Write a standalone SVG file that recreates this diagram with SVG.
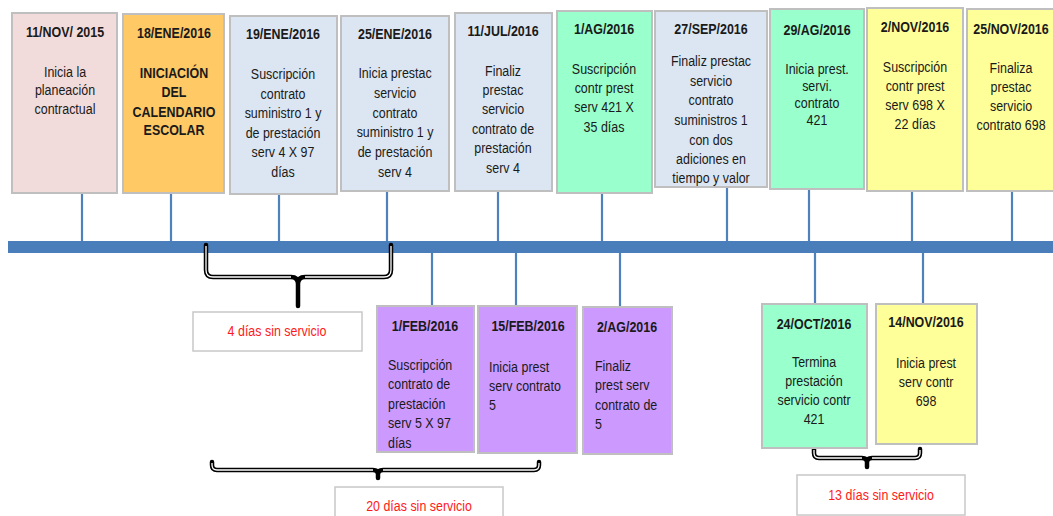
<svg xmlns="http://www.w3.org/2000/svg" width="1053" height="516" viewBox="0 0 1053 516">
  <style>
    .box { stroke: #BFBFBF; stroke-width: 2; }
    .pink { fill: #F2DCDB; }
    .orange { fill: #FFC966; }
    .blue { fill: #DCE6F2; }
    .green { fill: #99FFCC; }
    .yellow { fill: #FFFF99; }
    .purple { fill: #CC99FF; }
    .note { fill: #FFFFFF; stroke: #C8C8C8; stroke-width: 1.5; }
    text { font-family: "Liberation Sans Narrow", "Arial Narrow", "Liberation Sans", Arial, sans-serif; font-size: 15px; fill: #1A1A1A;
           transform-box: fill-box; transform-origin: 50% 50%; transform: scaleX(0.83); }
    text.l { transform-origin: 0 50%; }
    .t { font-weight: bold; text-anchor: middle; }
    .c { text-anchor: middle; }
    .b { font-weight: bold; text-anchor: middle; }
    .red { fill: #FF1A1A; text-anchor: middle; }
    .tick { stroke: #4F81BD; stroke-width: 2.2; fill: none; }
    .brace { fill: none; stroke: #000000; stroke-width: 4.5; stroke-linejoin: round; stroke-linecap: round; }
    .braceIn { fill: none; stroke: #FFFFFF; stroke-width: 1.3; stroke-linejoin: round; }
  </style>

  <!-- timeline bar -->
  <rect x="8" y="241" width="1045" height="12" fill="#4A7EBB"/>

  <!-- connectors: ticks, braces -->
  <g id="connectors">
    <line class="tick" x1="82" y1="193" x2="82" y2="241"/>
    <line class="tick" x1="171" y1="193" x2="171" y2="241"/>
    <line class="tick" x1="279" y1="194" x2="279" y2="241"/>
    <line class="tick" x1="387" y1="191" x2="387" y2="241"/>
    <line class="tick" x1="498" y1="191" x2="498" y2="241"/>
    <line class="tick" x1="602" y1="193" x2="602" y2="241"/>
    <line class="tick" x1="727" y1="187" x2="727" y2="241"/>
    <line class="tick" x1="809" y1="189" x2="809" y2="241"/>
    <line class="tick" x1="912" y1="191" x2="912" y2="241"/>
    <line class="tick" x1="1012" y1="191" x2="1012" y2="241"/>

    <line class="tick" x1="432" y1="253" x2="432" y2="306"/>
    <line class="tick" x1="516" y1="253" x2="516" y2="306"/>
    <line class="tick" x1="620" y1="253" x2="620" y2="307"/>
    <line class="tick" x1="815" y1="253" x2="815" y2="304"/>
    <line class="tick" x1="923" y1="253" x2="923" y2="304"/>

    <!-- brace: 4 días -->
    <path class="brace" d="M206,245 V270 Q206,277 213,277 H291 Q298,277 298,284 Q298,277 305,277 H384 Q391,277 391,270 V245 M298,282 V306"/>
    <path class="braceIn" d="M206,246 V270 Q206,277 213,277 H291 M305,277 H384 Q391,277 391,270 V246"/>

    <!-- brace: 20 días -->
    <path class="brace" d="M212,462 V465 Q212,470 217,470 H373 Q378,470 378,474 Q378,470 383,470 H534 Q539,470 539,465 V462 M378,472 V478"/>
    <path class="braceIn" d="M212,463 V465 Q212,470 217,470 H373 M383,470 H534 Q539,470 539,465 V463"/>

    <!-- brace: 13 días -->
    <path class="brace" d="M814,449 V453 Q814,458 819,458 H862 Q867,458 867,462 Q867,458 872,458 H915 Q920,458 920,453 V449 M867,460 V467"/>
    <path class="braceIn" d="M814,450 V453 Q814,458 819,458 H862 M872,458 H915 Q920,458 920,453 V450"/>
  </g>

  <!-- upper events -->
  <g id="n-11nov2015">
    <rect class="box pink" x="12" y="13" width="105" height="180"/>
    <text class="t" x="65" y="37">11/NOV/ 2015</text>
    <text class="c" x="65" y="77">Inicia  la</text>
    <text class="c" x="65" y="95">planeación</text>
    <text class="c" x="65" y="114">contractual</text>
  </g>
  <g id="n-18ene2016">
    <rect class="box orange" x="123" y="14" width="101" height="179"/>
    <text class="t" x="174" y="38">18/ENE/2016</text>
    <text class="b" x="174" y="78">INICIACIÓN</text>
    <text class="b" x="174" y="97">DEL</text>
    <text class="b" x="174" y="117">CALENDARIO</text>
    <text class="b" x="174" y="135">ESCOLAR</text>
  </g>
  <g id="n-19ene2016">
    <rect class="box blue" x="230" y="16" width="107" height="178"/>
    <text class="t" x="283" y="39">19/ENE/2016</text>
    <text class="c" x="283" y="79">Suscripción</text>
    <text class="c" x="283" y="99">contrato</text>
    <text class="c" x="283" y="118">suministro 1 y</text>
    <text class="c" x="283" y="138">de prestación</text>
    <text class="c" x="283" y="157">serv 4 X 97</text>
    <text class="c" x="283" y="177">días</text>
  </g>
  <g id="n-25ene2016">
    <rect class="box blue" x="341" y="16" width="108" height="175"/>
    <text class="t" x="395" y="39">25/ENE/2016</text>
    <text class="c" x="395" y="78">Inicia  prestac</text>
    <text class="c" x="395" y="98">servicio</text>
    <text class="c" x="395" y="118">contrato</text>
    <text class="c" x="395" y="137">suministro 1 y</text>
    <text class="c" x="395" y="157">de prestación</text>
    <text class="c" x="395" y="177">serv 4</text>
  </g>
  <g id="n-11jul2016">
    <rect class="box blue" x="455" y="13" width="97" height="178"/>
    <text class="t" x="503" y="36">11/JUL/2016</text>
    <text class="c" x="503" y="76">Finaliz</text>
    <text class="c" x="503" y="95">prestac</text>
    <text class="c" x="503" y="114">servicio</text>
    <text class="c" x="503" y="134">contrato de</text>
    <text class="c" x="503" y="153">prestación</text>
    <text class="c" x="503" y="173">serv 4</text>
  </g>
  <g id="n-1ag2016">
    <rect class="box green" x="557" y="11" width="95" height="182"/>
    <text class="t" x="604" y="34">1/AG/2016</text>
    <text class="c" x="604" y="74">Suscripción</text>
    <text class="c" x="604" y="93">contr prest</text>
    <text class="c" x="604" y="112">serv 421 X</text>
    <text class="c" x="604" y="132">35 días</text>
  </g>
  <g id="n-27sep2016">
    <rect class="box blue" x="655" y="11" width="112" height="176"/>
    <text class="t" x="711" y="34">27/SEP/2016</text>
    <text class="c" x="711" y="66">Finaliz prestac</text>
    <text class="c" x="711" y="86">servicio</text>
    <text class="c" x="711" y="105">contrato</text>
    <text class="c" x="711" y="125">suministros 1</text>
    <text class="c" x="711" y="145">con dos</text>
    <text class="c" x="711" y="164">adiciones en</text>
    <text class="c" x="711" y="183">tiempo  y valor</text>
  </g>
  <g id="n-29ag2016">
    <rect class="box green" x="770" y="9" width="94" height="180"/>
    <text class="t" x="817" y="35">29/AG/2016</text>
    <text class="c" x="817" y="74">Inicia  prest.</text>
    <text class="c" x="817" y="91">servi.</text>
    <text class="c" x="817" y="108">contrato</text>
    <text class="c" x="817" y="125">421</text>
  </g>
  <g id="n-2nov2016">
    <rect class="box yellow" x="867" y="8" width="96" height="183"/>
    <text class="t" x="915" y="32">2/NOV/2016</text>
    <text class="c" x="915" y="72">Suscripción</text>
    <text class="c" x="915" y="91">contr prest</text>
    <text class="c" x="915" y="110">serv 698 X</text>
    <text class="c" x="915" y="129">22 días</text>
  </g>
  <g id="n-25nov2016">
    <rect class="box yellow" x="967" y="9" width="100" height="182"/>
    <text class="t" x="1011" y="34">25/NOV/2016</text>
    <text class="c" x="1011" y="73">Finaliza</text>
    <text class="c" x="1011" y="92">prestac</text>
    <text class="c" x="1011" y="111">servicio</text>
    <text class="c" x="1011" y="130">contrato 698</text>
  </g>

  <!-- lower events -->
  <g id="n-1feb2016">
    <rect class="box purple" x="377" y="306" width="97" height="146"/>
    <text class="t" x="425" y="331">1/FEB/2016</text>
    <text class="l" x="388" y="370">Suscripción</text>
    <text class="l" x="388" y="389">contrato de</text>
    <text class="l" x="388" y="409">prestación</text>
    <text class="l" x="388" y="428">serv 5 X 97</text>
    <text class="l" x="388" y="448">días</text>
  </g>
  <g id="n-15feb2016">
    <rect class="box purple" x="478" y="306" width="99" height="147"/>
    <text class="t" x="528" y="331">15/FEB/2016</text>
    <text class="l" x="489" y="372">Inicia  prest</text>
    <text class="l" x="489" y="391">serv contrato</text>
    <text class="l" x="489" y="410">5</text>
  </g>
  <g id="n-2ag2016">
    <rect class="box purple" x="583" y="307" width="89" height="147"/>
    <text class="t" x="627" y="332">2/AG/2016</text>
    <text class="l" x="595" y="371">Finaliz</text>
    <text class="l" x="595" y="390">prest serv</text>
    <text class="l" x="595" y="410">contrato de</text>
    <text class="l" x="595" y="429">5</text>
  </g>
  <g id="n-24oct2016">
    <rect class="box green" x="762" y="304" width="105" height="144"/>
    <text class="t" x="814" y="329">24/OCT/2016</text>
    <text class="c" x="814" y="367">Termina</text>
    <text class="c" x="814" y="386">prestación</text>
    <text class="c" x="814" y="405">servicio contr</text>
    <text class="c" x="814" y="424">421</text>
  </g>
  <g id="n-14nov2016">
    <rect class="box yellow" x="876" y="304" width="101" height="140"/>
    <text class="t" x="926" y="327">14/NOV/2016</text>
    <text class="c" x="926" y="368">Inicia  prest</text>
    <text class="c" x="926" y="387">serv contr</text>
    <text class="c" x="926" y="406">698</text>
  </g>

  <!-- gap labels -->
  <g id="gap-4dias">
    <rect class="note" x="193" y="312" width="169" height="39"/>
    <text class="red" x="277" y="336">4 días sin servicio</text>
  </g>
  <g id="gap-20dias">
    <rect class="note" x="335" y="487" width="168" height="36"/>
    <text class="red" x="419" y="511">20 días sin servicio</text>
  </g>
  <g id="gap-13dias">
    <rect class="note" x="797" y="475" width="168" height="40"/>
    <text class="red" x="881" y="500">13 días sin servicio</text>
  </g>
</svg>
